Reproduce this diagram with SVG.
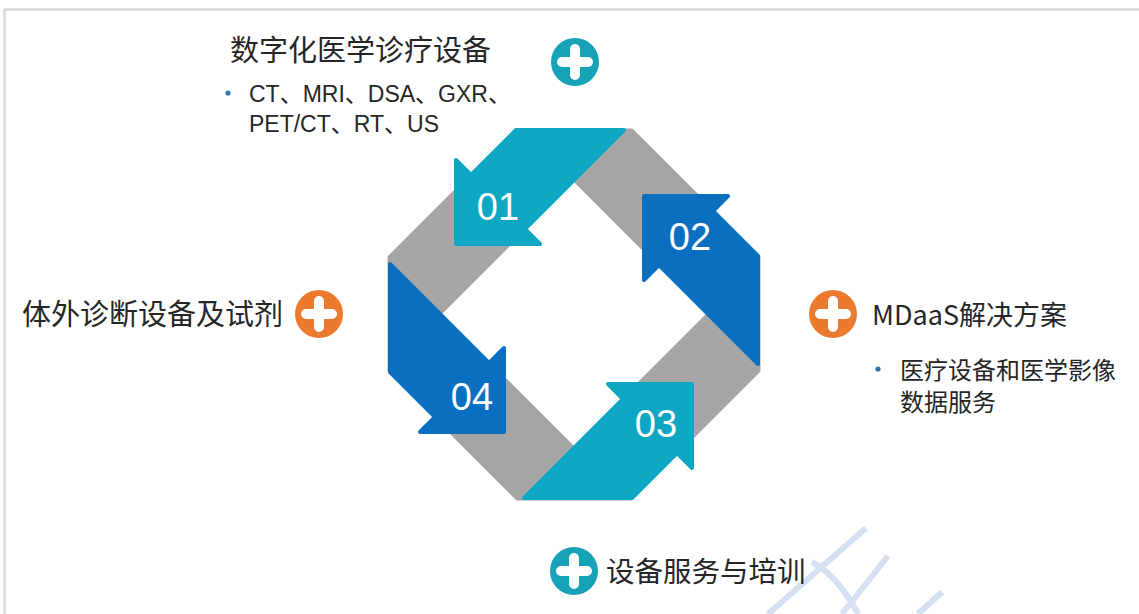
<svg xmlns="http://www.w3.org/2000/svg" width="1139" height="614" viewBox="0 0 1139 614">
<style>
.teal{fill:#0DA7C3;stroke:#0DA7C3;stroke-width:4;stroke-linejoin:round}
.blue{fill:#0A6FC1;stroke:#0A6FC1;stroke-width:4;stroke-linejoin:round}
.num{font-family:"Liberation Sans",Arial,sans-serif;font-size:38px;fill:#FFFFFF;text-anchor:middle}
.lbl{font-family:"Noto Sans CJK SC","Liberation Sans",sans-serif;fill:#262626}
.sub{font-family:"Liberation Sans","Noto Sans CJK SC",sans-serif;font-size:23px;fill:#262626}
.cross{stroke:#FFFFFF;stroke-width:10;stroke-linecap:round;fill:none}
.wm{stroke:#D6E0F2;stroke-width:6;fill:none}
</style>
<defs>
<path id="arrowShape" d="M516,130 L624,130 L525,229 L540,244 L456,244 L456,160 L471,175 Z"/>
<path id="crossShape" d="M-13,0 H13 M0,-13 V13"/>
</defs>
<rect x="0" y="0" width="1139" height="614" fill="#FFFFFF"/>
<g id="frame" stroke="#D9D9D9" stroke-width="2.5" fill="none">
<line x1="4" y1="9.5" x2="1139" y2="9.5"/>
<line x1="4.5" y1="9" x2="4.5" y2="614"/>
</g>
<g id="watermark">
<line class="wm" x1="866" y1="528" x2="768" y2="614"/>
<line class="wm" x1="888" y1="556" x2="842" y2="614"/>
<line class="wm" x1="942" y1="592" x2="918" y2="614"/>
<path class="wm" d="M812,562 Q838,576 858,614"/>
</g>
<g id="connectors">
<path d="M516,130 L632,130 L759,257 L759,371 L631,499 L517,499 L389,371 L389,257 Z M574,180 L440,314 L574,448 L708,314 Z" fill="#A6A6A6" fill-rule="evenodd" stroke="#A6A6A6" stroke-width="3" stroke-linejoin="round"/>
</g>
<g id="step01">
<use href="#arrowShape" class="teal"/>
<text class="num" x="498" y="220">01</text>
</g>
<g id="step02">
<use href="#arrowShape" class="blue" transform="rotate(90 574 314)"/>
<text class="num" x="690" y="250">02</text>
</g>
<g id="step03">
<use href="#arrowShape" class="teal" transform="rotate(180 574 314)"/>
<text class="num" x="656" y="437">03</text>
</g>
<g id="step04">
<use href="#arrowShape" class="blue" transform="rotate(270 574 314)"/>
<text class="num" x="472" y="410">04</text>
</g>
<g id="label-top">
<circle cx="575" cy="62" r="24" fill="#17A2B8"/>
<use href="#crossShape" class="cross" transform="translate(575 62)"/>
<text class="lbl" x="230" y="61" font-size="29">数字化医学诊疗设备</text>
<circle cx="228" cy="93" r="2.6" fill="#2E75B6"/>
<text class="sub" x="249" y="102">CT、MRI、DSA、GXR、</text>
<text class="sub" x="249" y="132">PET/CT、RT、US</text>
</g>
<g id="label-left">
<circle cx="319" cy="314" r="24" fill="#EB7A2E"/>
<use href="#crossShape" class="cross" transform="translate(319 314)"/>
<text class="lbl" x="22" y="325" font-size="29">体外诊断设备及试剂</text>
</g>
<g id="label-right">
<circle cx="833" cy="314" r="24" fill="#EB7A2E"/>
<use href="#crossShape" class="cross" transform="translate(833 314)"/>
<text class="lbl" x="872" y="325" font-size="27">MDaaS解决方案</text>
<circle cx="878" cy="369" r="2.6" fill="#2E75B6"/>
<text class="lbl" x="900" y="379" font-size="24">医疗设备和医学影像</text>
<text class="lbl" x="900" y="411" font-size="24">数据服务</text>
</g>
<g id="label-bottom">
<circle cx="574" cy="571" r="24" fill="#17A2B8"/>
<use href="#crossShape" class="cross" transform="translate(574 571)"/>
<text class="lbl" x="606" y="582" font-size="28.5">设备服务与培训</text>
</g>
</svg>
